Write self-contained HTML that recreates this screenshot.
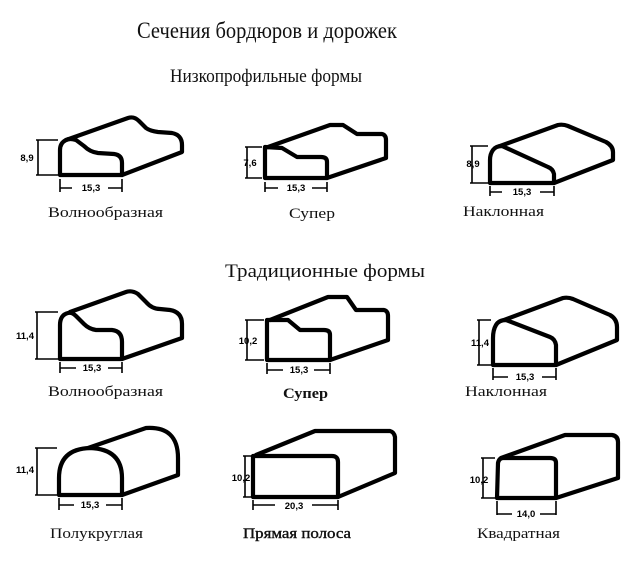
<!DOCTYPE html>
<html><head><meta charset="utf-8"><style>
html,body{margin:0;padding:0;background:#fff;width:640px;height:582px;overflow:hidden}
svg{display:block}
.s{fill:none;stroke:#000;stroke-width:4.2;stroke-linejoin:round;stroke-linecap:round}
.d{fill:none;stroke:#000;stroke-width:1.6}
.t{font-family:"Liberation Serif",serif;fill:#111}
.n{font-family:"Liberation Sans",sans-serif;font-size:9.5px;font-weight:bold;fill:#000}
</style></head><body>
<svg width="640" height="582" viewBox="0 0 640 582" xmlns="http://www.w3.org/2000/svg">
<text class="t" x="137" y="38" font-size="23" textLength="260" lengthAdjust="spacingAndGlyphs">Сечения бордюров и дорожек</text>
<text class="t" x="170" y="82" font-size="19" textLength="192" lengthAdjust="spacingAndGlyphs">Низкопрофильные формы</text>
<text class="t" x="225" y="277" font-size="19" textLength="200" lengthAdjust="spacingAndGlyphs">Традиционные формы</text>

<path class="s" d="M60,175 L122,175 L122,163 Q122,155 114,154 L98,153 Q90,152 84,146 L76,140 Q70,138 66,140 Q60,143 60,150 Z"/>
<path class="s" d="M66,140 L128,118 Q134,116 139,121 L146,128 Q150,131 158,132 L172,133 Q182,135 182,145 L182,152 L122,175"/>
<path class="s" d="M265,178 L327,178 L327,162 Q327,157 321,157 L297,157 L282,148 L265,147 Z"/>
<path class="s" d="M268,147 L330,125 L343,125 L357,134 L382,134 Q386,135 386,140 L386,158 L327,178"/>
<path class="s" d="M490,183 L554,183 L554,174 Q553,169 548,167 L502,146 Q496,146 493,150 Q490,154 490,160 Z"/>
<path class="s" d="M500,146 L558,125 Q563,124 568,126 L606,142 Q613,146 613,152 L613,160 L554,183"/>

<path class="s" d="M60,359 L122,359 L122,342 Q122,331 112,330 L96,330 Q89,329 84,324 L76,316 Q72,312 68,313 Q60,315 60,325 Z"/>
<path class="s" d="M70,312 L126,292 Q132,290 138,294 L146,302 Q152,309 160,309 L170,310 Q182,312 182,324 L182,338 L122,359"/>
<path class="s" d="M267,360 L330,360 L330,335 Q330,330 324,330 L300,330 L288,320 L267,320 Z"/>
<path class="s" d="M270,320 L328,297 L347,297 L356,310 L384,310 Q388,311 388,316 L388,340 L330,360"/>
<path class="s" d="M493,365 L556,365 L556,345 Q555,339 550,337 L506,320 Q499,320 496,325 Q493,330 493,338 Z"/>
<path class="s" d="M504,320 L563,298 Q568,297 573,299 L610,315 Q617,319 617,327 L617,340 L556,365"/>

<path class="s" d="M59,495 L122,495 L122,478 Q122,449 90,448 Q59,449 59,478 Z"/>
<path class="s" d="M88,448 L146,428 Q178,426 178,458 L178,475 L122,495"/>
<path class="s" d="M253,497 L338,497 L338,462 Q338,456 332,456 L253,456 Z"/>
<path class="s" d="M256,455 L315,431 L390,431 Q394,432 395,437 L395,473 L338,497"/>
<path class="s" d="M497,498 L556,498 L556,463 Q556,458 550,458 L503,458 Q499,458 498,463 Z"/>
<path class="s" d="M501,458 L565,435 L612,435 Q618,436 618,442 L618,478 L556,498"/>

<g class="d">
<path d="M36,140 H58 M36,175 H58 M38,140 V175"/>
<path d="M60,179 V192 M122,179 V192 M60,188 H72 M108,188 H122"/>
<path d="M245,147 H262 M245,178 H262 M247,147 V178"/>
<path d="M265,182 V192 M327,182 V192 M265,188 H278 M312,188 H327"/>
<path d="M470,146 H488 M470,183 H488 M472,146 V183"/>
<path d="M490,186 V196 M554,186 V196 M490,192 H502 M540,192 H554"/>
<path d="M35,312 H58 M35,359 H58 M37,312 V359"/>
<path d="M60,362 V373 M122,362 V373 M60,368 H76 M108,368 H122"/>
<path d="M245,320 H264 M245,360 H264 M247,320 V360"/>
<path d="M267,363 V374 M330,363 V374 M267,370 H283 M314,370 H330"/>
<path d="M477,320 H491 M477,365 H491 M479,320 V365"/>
<path d="M493,368 V380 M556,368 V380 M493,377 H508 M542,377 H556"/>
<path d="M35,448 H57 M35,495 H57 M37,448 V495"/>
<path d="M59,498 V510 M122,498 V510 M59,505 H74 M106,505 H122"/>
<path d="M243,456 H252 M243,497 H252 M245,456 V497"/>
<path d="M253,500 V510 M338,500 V510 M253,505 H275 M312,505 H338"/>
<path d="M481,458 H495 M481,498 H495 M483,458 V498"/>
<path d="M497,501 V515 M556,501 V515 M497,514 H512 M540,514 H556"/>
</g>
<g class="n">
<text x="27" y="161" text-anchor="middle">8,9</text>
<text x="91" y="191" text-anchor="middle">15,3</text>
<text x="250" y="166" text-anchor="middle">7,6</text>
<text x="296" y="191" text-anchor="middle">15,3</text>
<text x="473" y="167" text-anchor="middle">8,9</text>
<text x="522" y="195" text-anchor="middle">15,3</text>
<text x="25" y="339" text-anchor="middle">11,4</text>
<text x="92" y="371" text-anchor="middle">15,3</text>
<text x="248" y="344" text-anchor="middle">10,2</text>
<text x="299" y="373" text-anchor="middle">15,3</text>
<text x="480" y="346" text-anchor="middle">11,4</text>
<text x="525" y="380" text-anchor="middle">15,3</text>
<text x="25" y="473" text-anchor="middle">11,4</text>
<text x="90" y="508" text-anchor="middle">15,3</text>
<text x="241" y="481" text-anchor="middle">10,2</text>
<text x="294" y="509" text-anchor="middle">20,3</text>
<text x="479" y="483" text-anchor="middle">10,2</text>
<text x="526" y="517" text-anchor="middle">14,0</text>
</g>
<g class="t" font-size="15">
<text x="48" y="217" textLength="115" lengthAdjust="spacingAndGlyphs">Волнообразная</text>
<text x="289" y="218" textLength="46" lengthAdjust="spacingAndGlyphs">Супер</text>
<text x="463" y="216" textLength="81" lengthAdjust="spacingAndGlyphs">Наклонная</text>
<text x="48" y="396" textLength="115" lengthAdjust="spacingAndGlyphs">Волнообразная</text>
<text x="283" y="398" textLength="45" lengthAdjust="spacingAndGlyphs" font-weight="bold">Супер</text>
<text x="465" y="396" textLength="82" lengthAdjust="spacingAndGlyphs">Наклонная</text>
<text x="50" y="538" textLength="93" lengthAdjust="spacingAndGlyphs">Полукруглая</text>
<text x="243" y="538" textLength="108" lengthAdjust="spacingAndGlyphs" stroke="#111" stroke-width="0.4">Прямая полоса</text>
<text x="477" y="538" textLength="83" lengthAdjust="spacingAndGlyphs">Квадратная</text>
</g>
</svg>
</body></html>
